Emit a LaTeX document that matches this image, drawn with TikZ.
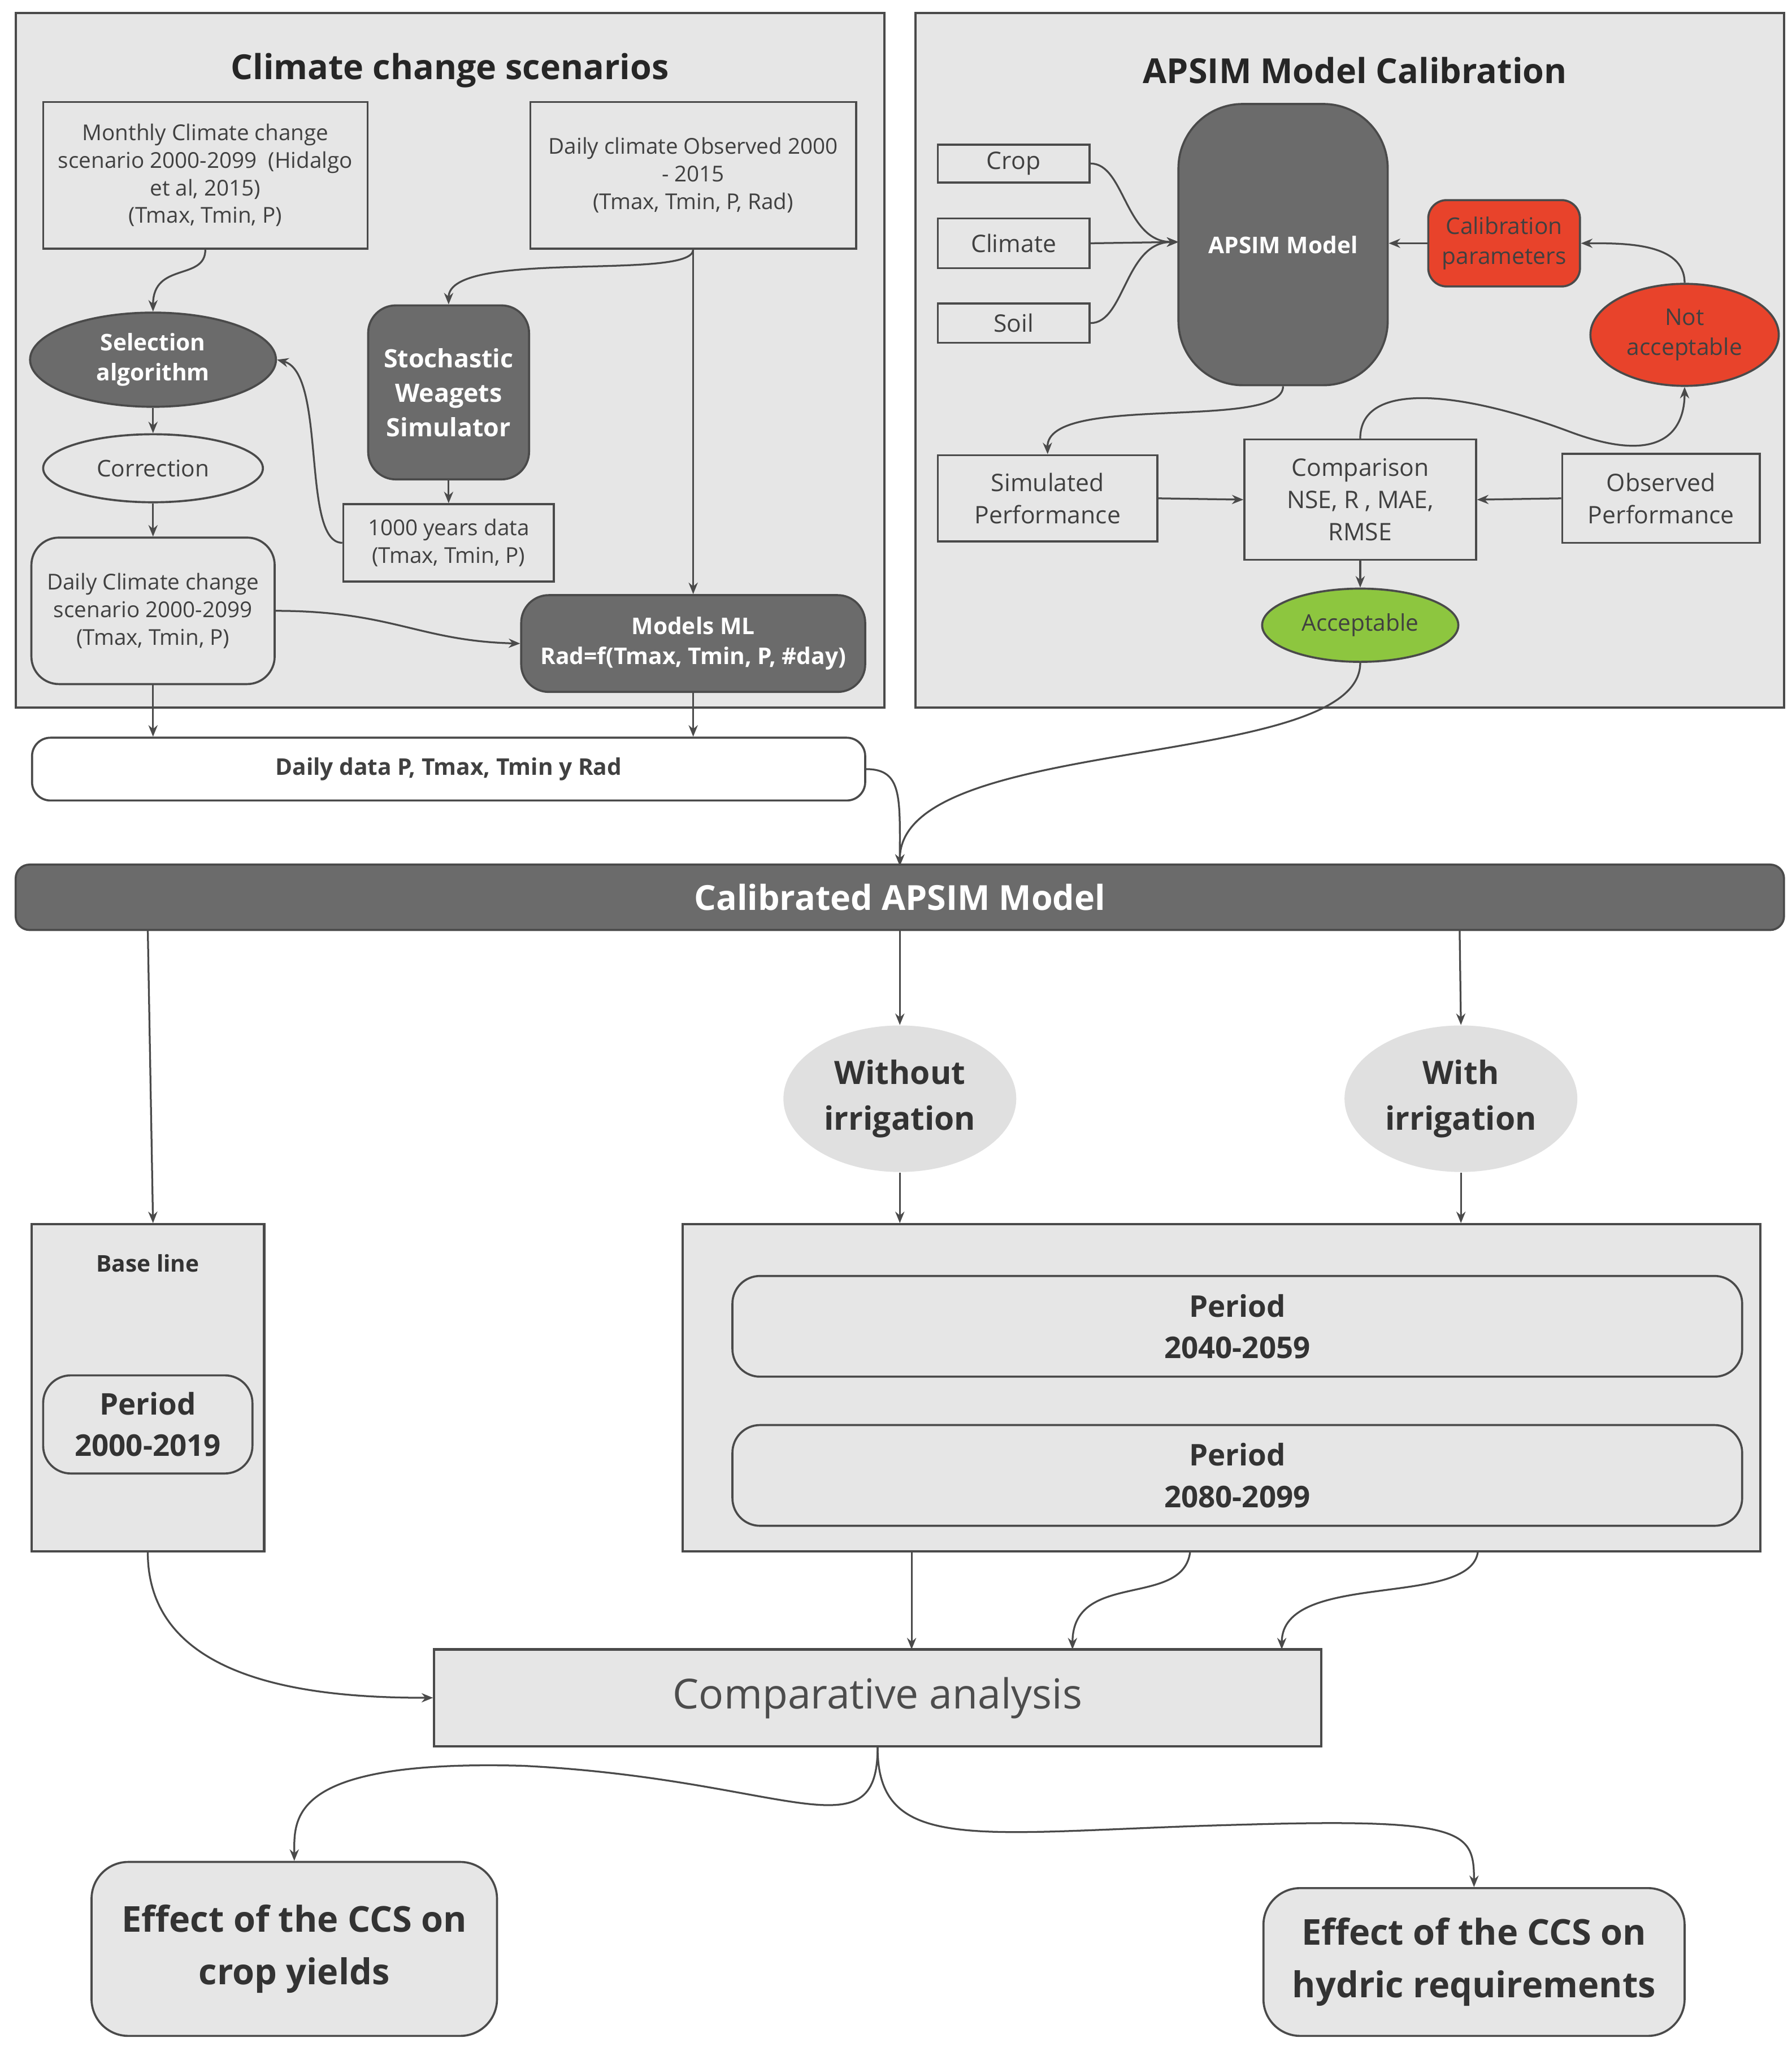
\documentclass[tikz,border=0pt]{standalone}
\usepackage{fontspec}
\setmainfont{Open Sans}
\usetikzlibrary{arrows.meta,shapes.geometric}
\definecolor{panel}{HTML}{E6E6E6}
\definecolor{dark}{HTML}{6B6B6B}
\definecolor{redc}{HTML}{E8432B}
\definecolor{greenc}{HTML}{8DC63F}
\definecolor{ell}{HTML}{E0E0E0}
\definecolor{edge}{HTML}{4A4A4A}
\begin{document}
\begin{tikzpicture}[x=0.02cm,y=-0.02cm,
  every node/.style={inner sep=1pt},
  bx/.style={draw=edge,line width=0.9pt,align=center,font=\fontsize{9.5}{12}\selectfont,text=black!75},
  darkbx/.style={draw=edge,line width=0.9pt,fill=dark,rounded corners=12pt,align=center,text=white,font=\fontsize{10}{13}\selectfont\bfseries},
  ar/.style={draw=edge,line width=0.8pt,-{Stealth[length=5pt,width=4pt]}},
  per/.style={draw=edge,line width=0.9pt,fill=panel,rounded corners=12pt,align=center,font=\fontsize{13}{18}\selectfont\bfseries,text=black!80}]
\useasboundingbox (0,0) rectangle (1370,1565);
\fill[white] (0,0) rectangle (1370,1565);
% panels
\draw[edge,line width=1pt,fill=panel] (12,10) rectangle (676,541);
\draw[edge,line width=1pt,fill=panel] (700,10) rectangle (1364,541);
\node[font=\fontsize{15}{18}\selectfont\bfseries,text=black!85] (t1) at (344,54) {Climate change scenarios};
\node[font=\fontsize{15}{18}\selectfont\bfseries,text=black!85] (t2) at (1036,54) {APSIM Model Calibration};
% left panel nodes
\node[bx,minimum width=248*0.02cm,minimum height=112*0.02cm] (mon) at (157,134) {Monthly Climate change\\scenario 2000-2099 \ (Hidalgo\\et al, 2015)\\(Tmax, Tmin, P)};
\node[bx,minimum width=249*0.02cm,minimum height=112*0.02cm] (obs) at (530,134) {Daily climate Observed 2000\\- 2015\\(Tmax, Tmin, P, Rad)};
\node[ellipse,draw=edge,line width=0.9pt,fill=dark,minimum width=188*0.02cm,minimum height=72*0.02cm,align=center,text=white,font=\fontsize{10}{13}\selectfont\bfseries] (sel) at (117,275) {Selection\\algorithm};
\node[darkbx,minimum width=123*0.02cm,minimum height=133*0.02cm,font=\fontsize{11}{15}\selectfont\bfseries] (sto) at (343,300) {Stochastic\\Weagets\\Simulator};
\node[ellipse,draw=edge,line width=0.9pt,fill=panel,minimum width=168*0.02cm,minimum height=52*0.02cm,font=\fontsize{10}{13}\selectfont,text=black!75] (cor) at (117,358) {Correction};
\node[bx,minimum width=161*0.02cm,minimum height=59*0.02cm] (yrs) at (343,415) {1000 years data\\(Tmax, Tmin, P)};
\node[bx,rounded corners=12pt,minimum width=186*0.02cm,minimum height=112*0.02cm] (dcc) at (117,467) {Daily Climate change\\scenario 2000-2099\\(Tmax, Tmin, P)};
\node[darkbx,minimum width=263*0.02cm,minimum height=74*0.02cm] (ml) at (530,492) {Models ML\\Rad=f(Tmax, Tmin, P, \#day)};
\node[bx,rounded corners=8pt,fill=white,minimum width=637*0.02cm,minimum height=48*0.02cm,font=\fontsize{10}{13}\selectfont\bfseries] (dd) at (343,588) {Daily data P, Tmax, Tmin y Rad};
% right panel nodes
\node[bx,minimum width=116*0.02cm,minimum height=29*0.02cm,font=\fontsize{10.5}{13}\selectfont] (crop) at (775,125) {Crop};
\node[bx,minimum width=116*0.02cm,minimum height=38*0.02cm,font=\fontsize{10.5}{13}\selectfont] (clim) at (775,186) {Climate};
\node[bx,minimum width=116*0.02cm,minimum height=30*0.02cm,font=\fontsize{10.5}{13}\selectfont] (soil) at (775,247) {Soil};
\node[darkbx,rounded corners=28pt,minimum width=160*0.02cm,minimum height=215*0.02cm] (aps) at (981,187) {APSIM Model};
\node[draw=edge,line width=0.9pt,fill=redc,rounded corners=8pt,minimum width=116*0.02cm,minimum height=66*0.02cm,align=center,font=\fontsize{10}{13}\selectfont,text=black!75] (cal) at (1150,186) {Calibration\\parameters};
\node[ellipse,draw=edge,line width=0.9pt,fill=redc,minimum width=144*0.02cm,minimum height=78*0.02cm,align=center,font=\fontsize{10}{13}\selectfont,text=black!75] (na) at (1288,256) {Not\\acceptable};
\node[bx,minimum width=168*0.02cm,minimum height=66*0.02cm,font=\fontsize{10.5}{14}\selectfont] (sim) at (801,381) {Simulated\\Performance};
\node[bx,minimum width=177*0.02cm,minimum height=92*0.02cm,font=\fontsize{10.5}{14}\selectfont] (cmp) at (1040,382) {Comparison\\NSE, R , MAE,\\RMSE};
\node[bx,minimum width=151*0.02cm,minimum height=68*0.02cm,font=\fontsize{10.5}{14}\selectfont] (obp) at (1270,381) {Observed\\Performance};
\node[ellipse,draw=edge,line width=0.9pt,fill=greenc,minimum width=150*0.02cm,minimum height=56*0.02cm,font=\fontsize{10}{13}\selectfont,text=black!75] (acc) at (1040,478) {Acceptable};
% lower part
\node[darkbx,rounded corners=6pt,minimum width=1352*0.02cm,minimum height=50*0.02cm,font=\fontsize{15}{18}\selectfont\bfseries] (capm) at (688,686) {Calibrated APSIM Model};
\node[ellipse,fill=ell,minimum width=178*0.02cm,minimum height=112*0.02cm,align=center,font=\fontsize{14}{20}\selectfont\bfseries,text=black!80] (wo) at (688,840) {Without\\irrigation};
\node[ellipse,fill=ell,minimum width=178*0.02cm,minimum height=112*0.02cm,align=center,font=\fontsize{14}{20}\selectfont\bfseries,text=black!80] (wi) at (1117,840) {With\\irrigation};
\node[draw=edge,line width=1pt,fill=panel,minimum width=178*0.02cm,minimum height=250*0.02cm] (bl) at (113,1061) {};
\node[font=\fontsize{10}{13}\selectfont\bfseries,text=black!80] (blt) at (113,966) {Base line};
\node[per,minimum width=160*0.02cm,minimum height=75*0.02cm] (p1) at (113,1089) {Period\\2000-2019};
\node[draw=edge,line width=1pt,fill=panel,minimum width=824*0.02cm,minimum height=250*0.02cm] (big) at (934,1061) {};
\node[per,minimum width=772*0.02cm,minimum height=77*0.02cm] (p2) at (946,1014) {Period\\2040-2059};
\node[per,minimum width=772*0.02cm,minimum height=77*0.02cm] (p3) at (946,1128) {Period\\2080-2099};
\node[draw=edge,line width=1pt,fill=panel,minimum width=678*0.02cm,minimum height=74*0.02cm,font=\fontsize{18}{22}\selectfont,text=black!70] (ca) at (671,1298) {Comparative analysis};
\node[per,rounded corners=16pt,minimum width=310*0.02cm,minimum height=133*0.02cm,font=\fontsize{15.5}{23}\selectfont\bfseries] (ey) at (225,1490) {Effect of the CCS on\\crop yields};
\node[per,rounded corners=16pt,minimum width=322*0.02cm,minimum height=113*0.02cm,font=\fontsize{15.5}{23}\selectfont\bfseries] (eh) at (1127,1500) {Effect of the CCS on\\hydric requirements};
% connectors left panel
\draw[ar] (mon.south) .. controls (157,215) and (117,200) .. (sel.north);
\draw[ar] (obs.south) .. controls (530,215) and (343,190) .. (sto.north);
\draw[ar] (obs.south) -- (ml.north);
\draw[ar] (sto.south) -- (yrs.north);
\draw[ar] (yrs.west) .. controls (230,415) and (250,285) .. (sel.east);
\draw[ar] (sel.south) -- (cor.north);
\draw[ar] (cor.south) -- (dcc.north);
\draw[ar] (dcc.east) .. controls (300,467) and (320,490) .. (ml.west);
\draw[ar] (dcc.south) -- (dd.north -| dcc.south);
\draw[ar] (ml.south) -- (dd.north -| ml.south);
% right panel connectors
\coordinate (ain) at (901,185);
\draw[ar] (crop.east) .. controls (860,125) and (860,185) .. (ain);
\draw[ar] (clim.east) -- (ain);
\draw[ar] (soil.east) .. controls (860,247) and (860,185) .. (ain);
\draw[ar] (cal.west) -- (aps.east |- cal.west);
\draw[ar] (na.north) .. controls (1288,185) and (1240,186) .. (cal.east);
\draw[ar] (aps.south) .. controls (981,330) and (800,300) .. (sim.north);
\draw[ar] (sim.east) -- (cmp.west);
\draw[ar] (obp.west) -- (cmp.east);
\draw[ar] (cmp.north) .. controls (1040,290) and (1120,300) .. (1200,330) .. controls (1280,360) and (1288,320) .. (na.south);
\draw[ar] (cmp.south) -- (acc.north);
% to calibrated model
\coordinate (cin) at (688,662);
\draw[ar] (dd.east) .. controls (690,588) and (688,610) .. (cin);
\draw[ar] (acc.south) .. controls (1040,590) and (688,560) .. (cin);
% lower connectors
\draw[ar] (113,711) -- (bl.north -| 117,0);
\draw[ar] (688,711) -- (wo.north);
\draw[ar] (1116,711) -- (wi.north);
\draw[ar] (wo.south) -- (wo.south |- big.north);
\draw[ar] (wi.south) -- (wi.south |- big.north);
\draw[ar] (bl.south) .. controls (113,1290) and (250,1298) .. (ca.west);
\draw[ar] (697,1186) -- (697,1261);
\draw[ar] (910,1186) .. controls (905,1230) and (820,1200) .. (820,1261);
\draw[ar] (1130,1186) .. controls (1125,1230) and (980,1200) .. (980,1261);
\draw[ar] (ca.south) .. controls (671,1420) and (600,1360) .. (400,1350) .. controls (220,1345) and (225,1390) .. (ey.north);
\draw[ar] (ca.south) .. controls (671,1420) and (750,1400) .. (950,1395) .. controls (1120,1390) and (1127,1400) .. (eh.north);
\end{tikzpicture}
\end{document}
